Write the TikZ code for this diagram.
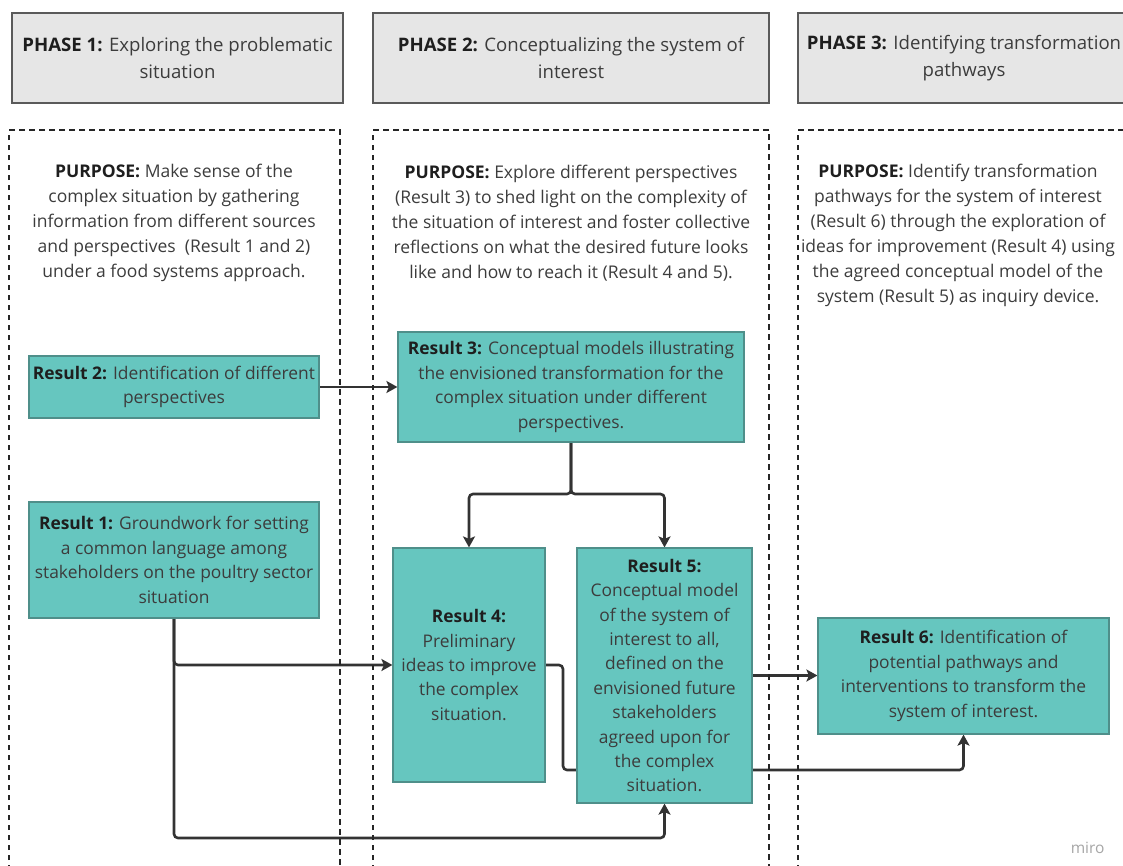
\documentclass[tikz,border=0pt]{standalone}
\usepackage{fontspec}
\setmainfont{Open Sans}
\usetikzlibrary{arrows.meta,backgrounds}

\definecolor{boxteal}{HTML}{66C6BF}
\definecolor{boxedge}{HTML}{4F8F8A}
\definecolor{headfill}{HTML}{E6E6E6}
\definecolor{headedge}{HTML}{5A5A5A}
\definecolor{inktext}{HTML}{3C3C3C}
\definecolor{inkbold}{HTML}{1E1E1E}
\definecolor{linkink}{HTML}{333333}

\newcommand{\lab}[1]{{\bfseries\color{inkbold}#1}}

\tikzset{
  header/.style={draw=headedge, line width=1.3pt, fill=headfill, inner sep=0pt,
    align=center, text=inktext, font=\fontsize{18.6}{26.5}\selectfont},
  phasebox/.style={draw=black!85, line width=1.2pt, dash pattern=on 5.5pt off 4.5pt},
  purpose/.style={inner sep=0pt, align=center, text=inktext,
    font=\fontsize{17.5}{25}\selectfont},
  result/.style={draw=boxedge, line width=1.2pt, fill=boxteal, inner sep=0pt,
    align=center, text=inktext, font=\fontsize{17.4}{24.4}\selectfont},
  link/.style={draw=linkink, line width=2.6pt, rounded corners=4pt,
    -{Stealth[length=11pt,width=12pt,inset=2.5pt]}},
}

\begin{document}
\begin{tikzpicture}[x=1pt,y=-1pt]
\useasboundingbox (0,0) rectangle (1123,865);
\clip (0,0) rectangle (1123,865);

% phase headers
\node[header, minimum width=331pt, minimum height=90pt] (h1) at (177.5,58)
  {\lab{PHASE 1:} Exploring the problematic\\situation};
\node[header, minimum width=396pt, minimum height=90pt] (h2) at (571,58)
  {\lab{PHASE 2:} Conceptualizing the system of\\interest};
\node[header, minimum width=342pt, minimum height=90pt] (h3) at (969,58)
  {\hspace*{-10pt}\lab{PHASE 3:} Identifying transformation\\\hspace*{-10pt}pathways};

% dashed phase areas, open past the lower edge
\draw[phasebox] (9,900) -- (9,130) -- (340,130) -- (340,900);
\draw[phasebox] (373,900) -- (373,130) -- (769,130) -- (769,900);
\draw[phasebox] (798,900) -- (798,130) -- (1140,130);

% purposes
\node[purpose] (p1) at (174,223)
  {\lab{PURPOSE:} Make sense of the\\complex situation by gathering\\information from different sources\\and perspectives~ (Result 1 and 2)\\under a food systems approach.};
\node[purpose] (p2) at (571,223)
  {\lab{PURPOSE:} Explore different perspectives\\(Result 3) to shed light on the complexity of\\the situation of interest and foster collective\\reflections on what the desired future looks\\like and how to reach it (Result 4 and 5).};
\node[purpose] (p3) at (958,235.5)
  {\lab{PURPOSE:} Identify transformation\\pathways for the system of interest\\(Result 6) through the exploration of\\ideas for improvement (Result 4) using\\the agreed conceptual model of the\\system (Result 5) as inquiry device.};

% results
\node[result, minimum width=290pt, minimum height=62pt] (r2) at (174,387)
  {\lab{Result 2:} Identification of different\\perspectives};
\node[result, minimum width=290pt, minimum height=116pt] (r1) at (174,560)
  {\lab{Result 1:} Groundwork for setting\\a common language among\\stakeholders on the poultry sector\\situation};
\node[result, minimum width=346pt, minimum height=110pt] (r3) at (571,387)
  {\lab{Result 3:} Conceptual models illustrating\\the envisioned transformation for the\\complex situation under different\\perspectives.};
\node[result, minimum width=152pt, minimum height=234pt] (r4) at (469,665)
  {\lab{Result 4:}\\Preliminary\\ideas to improve\\the complex\\situation.};
\node[result, minimum width=175pt, minimum height=255pt] (r5) at (664.5,675.5)
  {\lab{Result 5:}\\Conceptual model\\of the system of\\interest to all,\\defined on the\\envisioned future\\stakeholders\\agreed upon for\\the complex\\situation.};
\node[result, minimum width=291pt, minimum height=116pt] (r6) at (963.5,676)
  {\lab{Result 6:} Identification of\\potential pathways and\\interventions to transform the\\system of interest.};

\coordinate (split) at (571,494);
\coordinate (bend) at (563,770);

% connectors, kept behind the boxes
\begin{scope}[on background layer]
  \draw[link] (r2.east) -- (r3.west);
  \draw[link] (r3.south) -- (split) -| (r4.north);
  \draw[link] (r3.south) -- (split) -| (r5.north);
  \draw[link] (r1.south) |- (r4.west);
  \draw[link] (r1.south) -- (r1.south |- 0,838) -| (r5.south);
  \draw[link] (r4.east) -| (bend) -| (r6.south);
  \draw[link] (r5.east) -- (r5.east -| r6.west);
\end{scope}

\node[text=black!35, font=\fontsize{15.5}{18}\selectfont, anchor=east] (wm) at (1108,848) {miro};
\end{tikzpicture}
\end{document}
